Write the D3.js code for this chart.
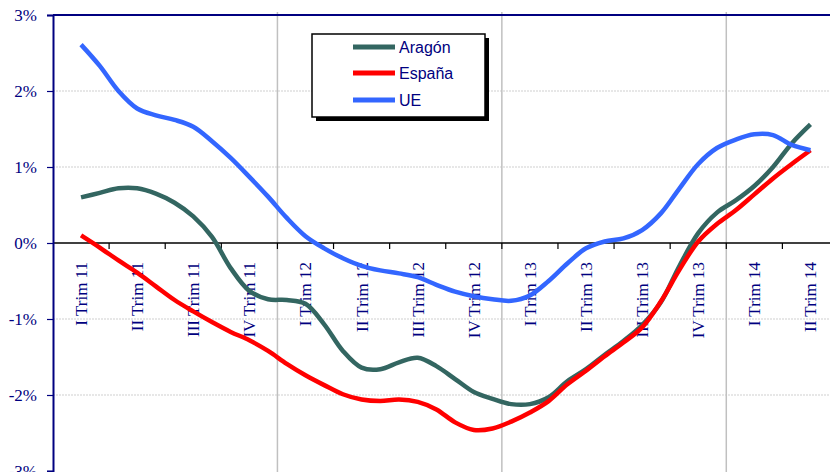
<!DOCTYPE html>
<html><head><meta charset="utf-8">
<script src="https://cdn.jsdelivr.net/npm/d3@7"></script>
<style>body{margin:0;background:#fff}svg{display:block}</style>
</head><body><svg id="c" width="830" height="472"></svg>
<script>
const categories = ["I Trim 11","II Trim 11","III Trim 11","IV Trim 11","I Trim 12","II Trim 12","III Trim 12","IV Trim 12","I Trim 13","II Trim 13","III Trim 13","IV Trim 13","I Trim 14","II Trim 14"];
const yTicks = [3,2,1,0,-1,-2,-3];
const seriesNames = ["Aragón","España","UE"];
const aragon = [0.60,0.66,0.72,0.72,0.65,0.53,0.35,0.08,-0.33,-0.63,-0.74,-0.75,-0.80,-1.07,-1.42,-1.64,-1.66,-1.57,-1.51,-1.62,-1.79,-1.96,-2.05,-2.12,-2.12,-2.03,-1.82,-1.66,-1.47,-1.29,-1.08,-0.78,-0.30,0.13,0.40,0.56,0.75,1.00,1.31,1.56];
const espana = [0.10,-0.06,-0.23,-0.39,-0.57,-0.75,-0.90,-1.04,-1.17,-1.28,-1.42,-1.59,-1.74,-1.87,-1.99,-2.06,-2.08,-2.06,-2.09,-2.19,-2.36,-2.46,-2.44,-2.35,-2.23,-2.08,-1.86,-1.68,-1.49,-1.31,-1.11,-0.77,-0.35,0.02,0.25,0.43,0.64,0.85,1.04,1.22];
const ue = [2.61,2.33,2.00,1.77,1.68,1.62,1.53,1.34,1.12,0.87,0.61,0.33,0.09,-0.07,-0.20,-0.30,-0.36,-0.40,-0.45,-0.55,-0.64,-0.70,-0.74,-0.76,-0.69,-0.50,-0.27,-0.07,0.02,0.06,0.17,0.39,0.72,1.04,1.25,1.36,1.43,1.42,1.29,1.22];
const colors = ["#336661","#FF0000","#3366FF"];

const svg = d3.select("#c");
const L = 53, T = 15, R = 838.5, B = 471;
const x = d3.scaleBand().domain(categories).range([L, R]).paddingInner(0).paddingOuter(0);
const y = d3.scaleLinear().domain([-3,3]).range([B, T]);
const xm = d3.scaleLinear().domain([0, aragon.length-1])
  .range([x(categories[0]) + x.bandwidth()/2, x(categories[categories.length-1]) + x.bandwidth()/2]);

// gridlines
svg.append("g").selectAll("line").data(yTicks.filter(d => d!==0 && d!==3 && d!==-3)).join("line")
  .attr("x1", L).attr("x2", 830).attr("y1", d=>y(d)).attr("y2", d=>y(d))
  .attr("stroke", "#cfcfcf").attr("stroke-width", 1).attr("stroke-dasharray", "2,1");

// year separators
const sepIdx = [4,8,12];
svg.append("g").selectAll("line").data(sepIdx).join("line")
  .attr("x1", d=>x(categories[d])).attr("x2", d=>x(categories[d]))
  .attr("y1", T-3).attr("y2", 472)
  .attr("stroke", "#c0c0c0").attr("stroke-width", 1.5);

// top border
svg.append("line").attr("x1", L).attr("x2", 830).attr("y1", y(3)).attr("y2", y(3))
  .attr("stroke", "#000080").attr("stroke-width", 2);

// zero axis with ticks
const xAxis = d3.axisBottom(x).tickSize(0).tickFormat("");
const zero = svg.append("g").attr("transform", `translate(0,${y(0)})`);
zero.append("line").attr("x1", L).attr("x2", 830).attr("stroke", "#000").attr("stroke-width", 1.5);
zero.selectAll("line.tk").data(categories.slice(1)).join("line").attr("class","tk")
  .attr("x1", d=>x(d)).attr("x2", d=>x(d)).attr("y1", 0).attr("y2", 6)
  .attr("stroke", "#000").attr("stroke-width", 1.2);

// y axis
const yAxis = d3.axisLeft(y).tickValues(yTicks).tickSize(6).tickPadding(10).tickFormat(d => d + "%");
const ya = svg.append("g").attr("transform", `translate(${L},0)`).call(yAxis);
ya.select(".domain").attr("stroke", "#000080").attr("stroke-width", 2);
ya.selectAll(".tick line").attr("stroke", "#000080").attr("stroke-width", 1.2);
ya.selectAll(".tick text").attr("fill", "#000080").attr("font-family", "Liberation Serif, Times New Roman, serif").attr("font-size", 17);

// x labels rotated
svg.append("g").selectAll("text").data(categories).join("text")
  .attr("transform", d => `translate(${x(d)+x.bandwidth()/2 + 6},${y(0)+19}) rotate(-90)`)
  .attr("text-anchor", "end")
  .attr("fill", "#000080").attr("font-family", "Liberation Serif, Times New Roman, serif").attr("font-size", 17)
  .text(d => d);

// lines
const line = d3.line().x((d,i)=>xm(i)).y(d=>y(d)).curve(d3.curveCatmullRom.alpha(0.5));
const data = [aragon, espana, ue];
svg.append("g").selectAll("path").data(data).join("path")
  .attr("d", line).attr("fill","none")
  .attr("stroke", (d,i)=>colors[i]).attr("stroke-width", 4.5).attr("stroke-linejoin","round");

// legend
const lg = svg.append("g");
lg.append("rect").attr("x", 316).attr("y", 38).attr("width", 173).attr("height", 83).attr("fill", "#000");
lg.append("rect").attr("x", 312).attr("y", 34).attr("width", 173).attr("height", 83).attr("fill", "#fff").attr("stroke", "#000").attr("stroke-width", 1.5);
const rows = [47, 73, 100];
seriesNames.forEach((n,i) => {
  lg.append("line").attr("x1", 353).attr("x2", 395).attr("y1", rows[i]).attr("y2", rows[i])
    .attr("stroke", colors[i]).attr("stroke-width", 5);
  lg.append("text").attr("x", 399).attr("y", rows[i]+6).attr("fill", "#000080")
    .attr("font-family", "Liberation Sans, Arial, sans-serif").attr("font-size", 16).text(n);
});
</script></body></html>
